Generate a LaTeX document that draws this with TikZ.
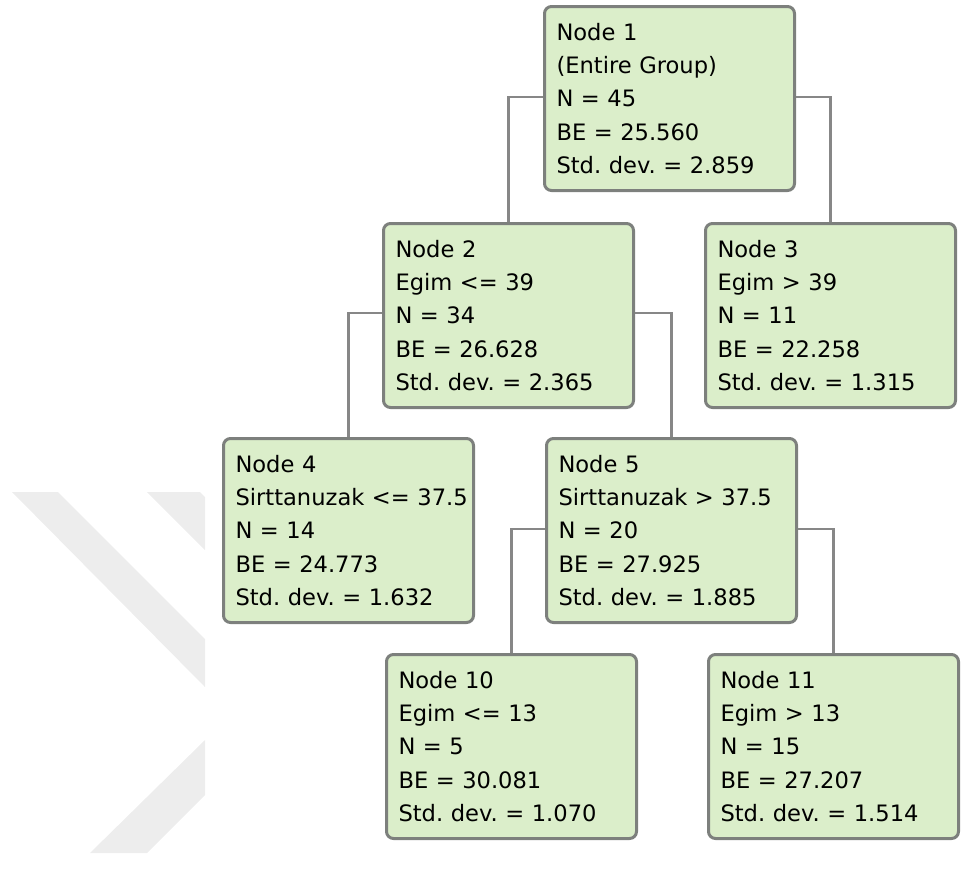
\documentclass[tikz,border=0pt]{standalone}
\usepackage{fontspec}
\setmainfont{DejaVu Sans}
\definecolor{boxfill}{RGB}{219,238,202}
\definecolor{boxline}{RGB}{125,128,125}
\definecolor{connline}{RGB}{135,135,135}
\definecolor{wmark}{RGB}{237,237,237}
\tikzset{
  treebox/.style={draw=boxline, line width=3pt, fill=boxfill, rounded corners=7pt,
    anchor=north west, minimum width=250pt, minimum height=184pt,
    text width=226pt, inner xsep=12pt, inner ysep=0pt, align=left,
    font=\fontsize{22.6}{33.3}\selectfont\frenchspacing, text=black},
  conn/.style={draw=connline, line width=2.8pt},
  wm/.style={fill=wmark, draw=none}
}
\begin{document}
\begin{tikzpicture}[x=1pt, y=-1pt]
\useasboundingbox (0,0) rectangle (979,868);
% watermark
\fill[wm] (12,492) -- (58,492) -- (205,639) -- (205,687) -- cycle;
\fill[wm] (147,492) -- (200,492) -- (205,497) -- (205,550) -- cycle;
\fill[wm] (205,740) -- (205,795) -- (147,853) -- (90,853) -- cycle;
% nodes
\node[treebox] (n1) at (543,5) {Node 1\\(Entire Group)\\N = 45\\BE = 25.560\\Std. dev. = 2.859};
\node[treebox] (n2) at (382,222) {Node 2\\Egim <= 39\\N = 34\\BE = 26.628\\Std. dev. = 2.365};
\node[treebox] (n3) at (704,222) {Node 3\\Egim > 39\\N = 11\\BE = 22.258\\Std. dev. = 1.315};
\node[treebox] (n4) at (222,437) {Node 4\\\mbox{Sirttanuzak <= 37.5}\\N = 14\\BE = 24.773\\Std. dev. = 1.632};
\node[treebox] (n5) at (545,437) {Node 5\\\mbox{Sirttanuzak > 37.5}\\N = 20\\BE = 27.925\\Std. dev. = 1.885};
\node[treebox] (n10) at (385,653) {Node 10\\Egim <= 13\\N = 5\\BE = 30.081\\Std. dev. = 1.070};
\node[treebox] (n11) at (707,653) {Node 11\\Egim > 13\\N = 15\\BE = 27.207\\Std. dev. = 1.514};
% connectors
\draw[conn] ([yshift=-92pt]n1.north west) -| (n2.north);
\draw[conn] ([yshift=-92pt]n1.north east) -| (n3.north);
\draw[conn] ([yshift=-91pt]n2.north west) -| (n4.north);
\draw[conn] ([yshift=-91pt]n2.north east) -| (n5.north);
\draw[conn] ([yshift=-92pt]n5.north west) -| (n10.north);
\draw[conn] ([yshift=-92pt]n5.north east) -| (n11.north);
\end{tikzpicture}
\end{document}
